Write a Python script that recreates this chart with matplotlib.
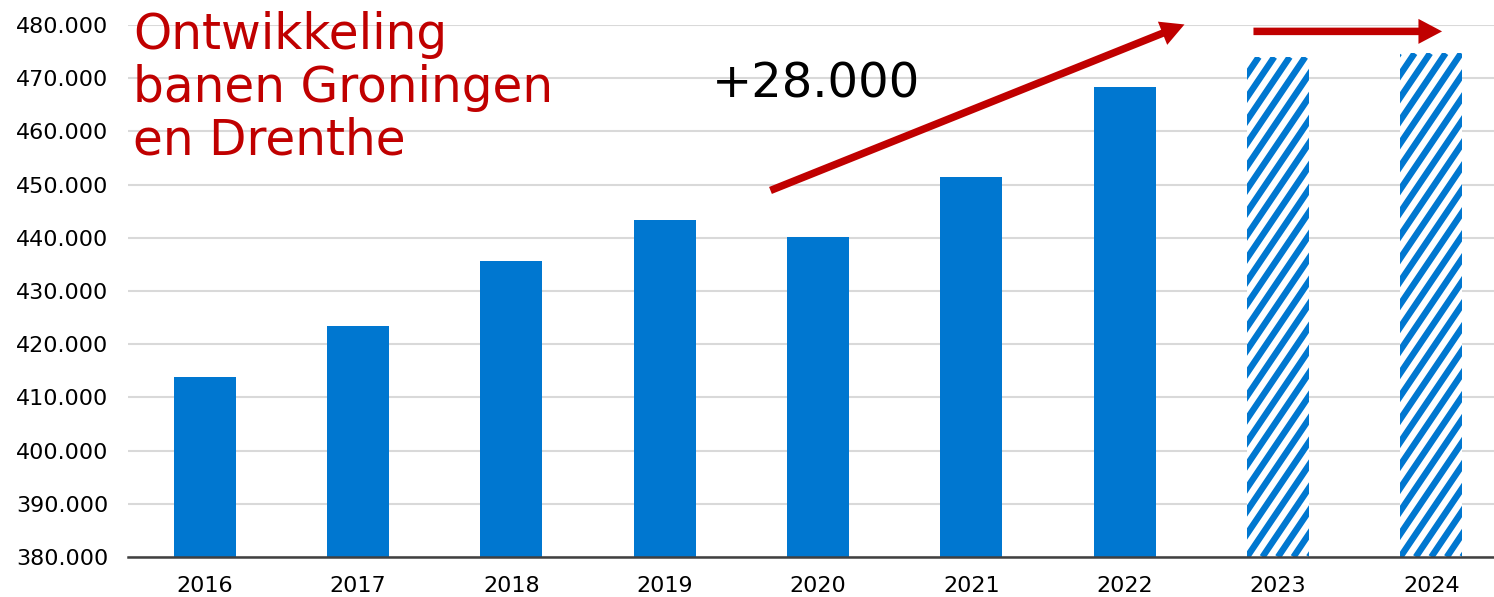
import math
import matplotlib
matplotlib.use("Agg")
import matplotlib.pyplot as plt
from matplotlib.collections import LineCollection
from matplotlib.transforms import IdentityTransform

# jaren en aantal banen (2023/2024 = raming, gearceerd)
jaren = ["2016", "2017", "2018", "2019", "2020", "2021", "2022", "2023", "2024"]
banen = [413800, 423400, 435700, 443400, 440100, 451500, 468400, 474000, 474700]
raming = [False, False, False, False, False, False, False, True, True]

y_ticks = list(range(380000, 480001, 10000))
y_labels = [f"{v // 1000}.000" for v in y_ticks]

blauw = "#0077D0"
rood = "#C00000"

plt.rcParams["font.family"] = ["DejaVu Sans"]

fig = plt.figure(figsize=(14.94, 5.97), dpi=100)
ax = fig.add_axes([128 / 1494, 40 / 597, 1380 / 1494, 532 / 597])

ax.set_xlim(-0.5, 8.5)
ax.set_ylim(380000, 480000)

x = list(range(len(jaren)))
for xi, val, r in zip(x, banen, raming):
    if not r:
        ax.bar(xi, val - 380000, bottom=380000, width=0.405, color=blauw,
               linewidth=0, zorder=2)
        continue
    # raming: witte balk met steile blauwe streepjes
    bar = ax.bar(xi, val - 380000, bottom=380000, width=0.405, color="white",
                 linewidth=0, zorder=2)[0]
    bb = bar.get_window_extent()
    hoek = math.radians(56)
    periode = 15.5  # pixels, horizontaal
    dx = bb.height / math.tan(hoek)
    segs = []
    k = -int(dx / periode) - 2
    while bb.x0 + k * periode < bb.x1 + periode:
        x0 = bb.x0 + k * periode
        segs.append([(x0, bb.y0), (x0 + dx, bb.y1)])
        k += 1
    lc = LineCollection(segs, colors=blauw, linewidths=4.6,
                        transform=IdentityTransform(), zorder=3)
    lc.set_capstyle("butt")
    ax.add_collection(lc)
    lc.set_clip_path(bar)

ax.set_yticks(y_ticks)
ax.set_yticklabels(y_labels, fontsize=16)
ax.set_xticks(x)
ax.set_xticklabels(jaren, fontsize=16)
ax.tick_params(axis="y", length=0, pad=14)
ax.tick_params(axis="x", length=0, pad=14)
ax.grid(axis="y", color="#D9D9D9", linewidth=1.5, zorder=0)
ax.set_axisbelow(True)
for s in ["top", "right", "left"]:
    ax.spines[s].set_visible(False)
ax.spines["bottom"].set_color("#404040")
ax.spines["bottom"].set_linewidth(1.8)
ax.spines["bottom"].set_zorder(4)

# pijlen
pijl = dict(arrowstyle="simple,head_length=0.85,head_width=0.9,tail_width=0.27",
            color=rood, lw=0, shrinkA=0, shrinkB=0, mutation_scale=20)
ax.annotate("", xy=(6.39, 480100), xytext=(3.69, 448900),
            arrowprops=pijl, annotation_clip=False, zorder=4)
ax.annotate("", xy=(8.07, 478800), xytext=(6.84, 478800),
            arrowprops=pijl, annotation_clip=False, zorder=4)

ax.text(3.31, 466300, "+28.000", fontsize=34.6, color="black",
        ha="left", va="baseline", zorder=5)
fig.text(133 / 1494, 1 - 11 / 597, "Ontwikkeling\nbanen Groningen\nen Drenthe",
         fontsize=35, color=rood, ha="left", va="top", linespacing=1.12)

fig.savefig("out.png", dpi=100, facecolor="white")
